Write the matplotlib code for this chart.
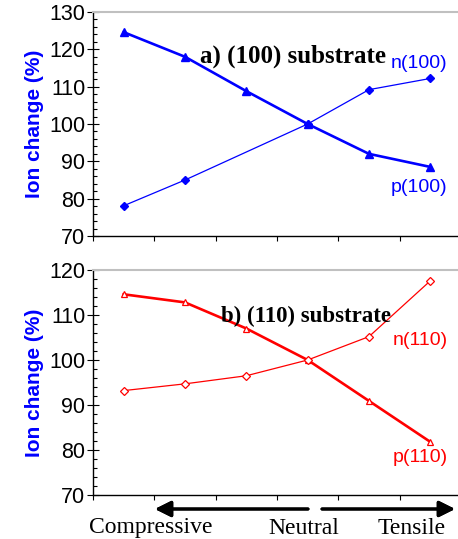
"""Ion change vs. strain for (100) and (110) substrates."""
import matplotlib
matplotlib.use("Agg")
import matplotlib.pyplot as plt
from matplotlib.ticker import MultipleLocator

# strain positions (compressive -> tensile), plotted at bin centres
pos = [0.5, 1.5, 2.5, 3.5, 4.5, 5.5]

p100 = [124.6, 118.0, 108.8, 100.0, 92.0, 88.5]
n100 = [78.1, 85.0, 92.5, 100.0, 109.2, 112.2]
p110 = [114.6, 112.8, 107.0, 100.0, 90.9, 81.8]
n110 = [93.2, 94.7, 96.5, 100.0, 105.2, 117.6]

BLUE, RED = "#0000ff", "#ff0000"
SANS = "Liberation Sans"
SERIF = "Liberation Serif"

fig = plt.figure(figsize=(4.58, 5.39), dpi=100)
W, H = 458, 539


def px_axes(left, top, width, height):
    return fig.add_axes([left / W, 1 - (top + height) / H, width / W, height / H])


def style(ax, ylo, yhi):
    ax.set_xlim(0, 6)
    ax.set_ylim(ylo, yhi)
    ax.xaxis.set_major_locator(MultipleLocator(1))
    ax.yaxis.set_major_locator(MultipleLocator(10))
    ax.yaxis.set_minor_locator(MultipleLocator(2))
    ax.tick_params(axis="x", direction="out", length=3.5, width=0.8, labelbottom=False)
    ax.tick_params(axis="y", which="major", direction="inout", length=8, width=0.8,
                   labelsize=15.5, pad=1.5)
    ax.tick_params(axis="y", which="minor", direction="in", length=3, width=0.8)
    for t in ax.get_yticklabels():
        t.set_fontfamily(SANS)
    ax.spines["right"].set_visible(False)
    ax.spines["top"].set_color("#c0c0c0")
    ax.spines["top"].set_linewidth(1.5)
    ax.spines["left"].set_linewidth(1.0)
    ax.spines["bottom"].set_linewidth(1.0)
    ax.set_ylabel("Ion change (%)", color=BLUE, fontsize=15, fontweight="bold",
                  fontfamily=SANS, labelpad=4)


# (a) (100) substrate
ax1 = px_axes(93, 12, 368, 224)
style(ax1, 70, 130)
ax1.plot(pos, p100, color=BLUE, lw=1.9, marker="^", ms=6, mfc=BLUE, mec=BLUE, zorder=3)
ax1.plot(pos, n100, color=BLUE, lw=0.9, marker="D", ms=4, mfc=BLUE, mec=BLUE,
         markevery=[0, 1, 3, 4, 5], zorder=3)
ax1.text(1.74, 118.2, "a) (100) substrate", fontsize=18, fontweight="bold",
         fontfamily=SERIF, va="center", ha="left")
ax1.text(4.85, 116.3, "n(100)", color=BLUE, fontsize=14, fontfamily=SANS, va="center")
ax1.text(4.85, 82.9, "p(100)", color=BLUE, fontsize=14, fontfamily=SANS, va="center")

# (b) (110) substrate
ax2 = px_axes(93, 270, 368, 225)
style(ax2, 70, 120)
ax2.plot(pos, p110, color=RED, lw=1.9, marker="^", ms=5, mfc="white", mec=RED,
         mew=0.9, zorder=3)
ax2.plot(pos, n110, color=RED, lw=0.9, marker="D", ms=4, mfc="white", mec=RED,
         mew=0.9, zorder=3)
ax2.text(2.08, 109.7, "b) (110) substrate", fontsize=16.5, fontweight="bold",
         fontfamily=SERIF, va="center", ha="left")
ax2.text(4.88, 104.4, "n(110)", color=RED, fontsize=14, fontfamily=SANS, va="center")
ax2.text(4.88, 78.4, "p(110)", color=RED, fontsize=14, fontfamily=SANS, va="center")

# strain direction arrows and labels below the lower panel
arrow = dict(arrowstyle="-|>", color="black", lw=2.2, mutation_scale=24,
             shrinkA=0, shrinkB=0)
fig.add_artist(plt.annotate("", xy=(155 / W, 1 - 509 / H), xytext=(308 / W, 1 - 509 / H),
                            xycoords="figure fraction", arrowprops=arrow))
fig.add_artist(plt.annotate("", xy=(455 / W, 1 - 509 / H), xytext=(322 / W, 1 - 509 / H),
                            xycoords="figure fraction", arrowprops=arrow))
for label, x in [("Compressive", 151), ("Neutral", 304), ("Tensile", 412)]:
    fig.text(x / W, 1 - 528 / H, label, fontsize=17, fontfamily=SERIF,
             ha="center", va="center")

fig.savefig("out.png", dpi=100)
